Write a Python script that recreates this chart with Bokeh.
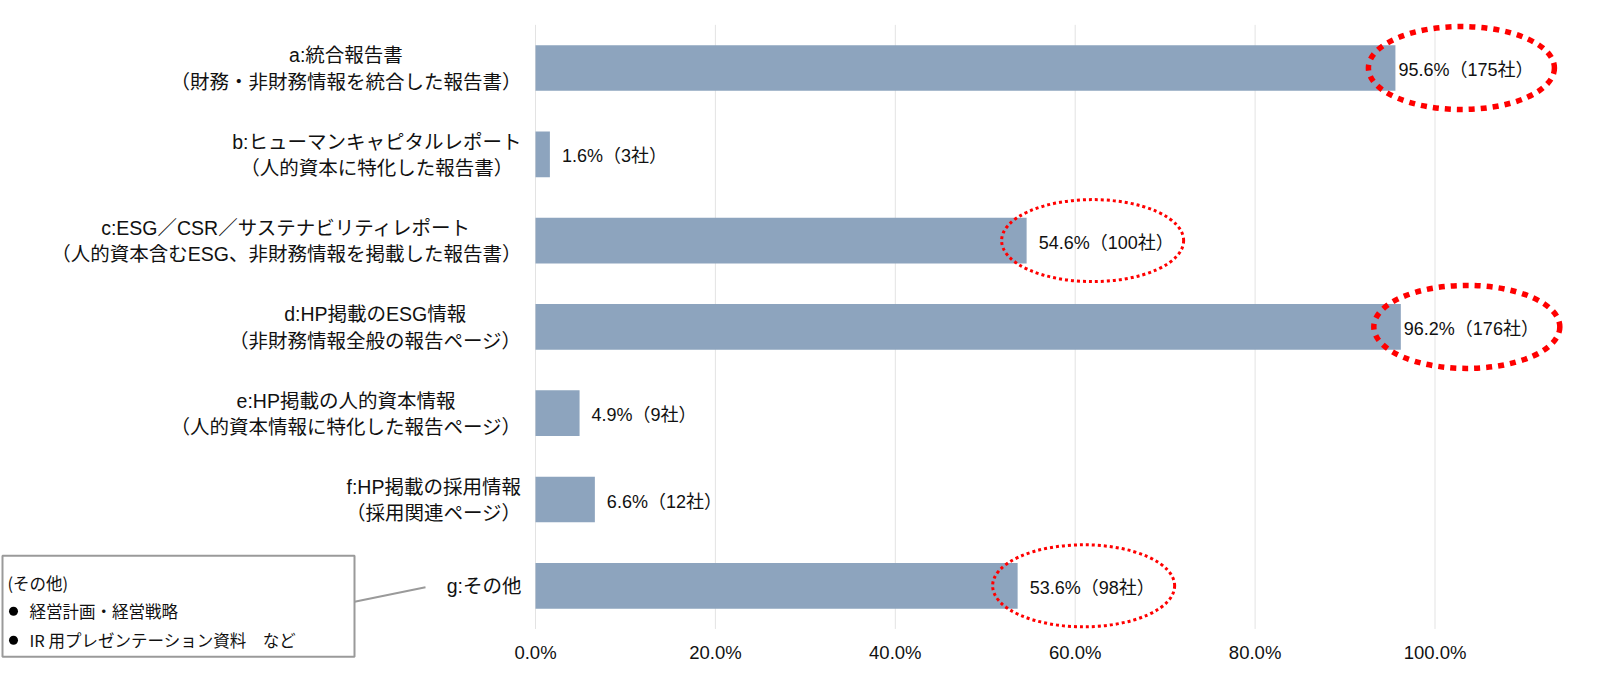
from bokeh.plotting import figure
from bokeh.models import Range1d
from bokeh.core.properties import value
from bokeh.embed import file_html
from bokeh.resources import INLINE

# ---------------- data ----------------
CAT_KEYS = ["a", "b", "c", "d", "e", "f", "g"]
CAT_LABELS = [
    "a:統合報告書\n（財務・非財務情報を統合した報告書）",
    "b:ヒューマンキャピタルレポート\n（人的資本に特化した報告書）",
    "c:ESG／CSR／サステナビリティレポート\n（人的資本含むESG、非財務情報を掲載した報告書）",
    "d:HP掲載のESG情報\n（非財務情報全般の報告ページ）",
    "e:HP掲載の人的資本情報\n（人的資本情報に特化した報告ページ）",
    "f:HP掲載の採用情報\n（採用関連ページ）",
    "g:その他",
]
PERCENT = [95.6, 1.6, 54.6, 96.2, 4.9, 6.6, 53.6]
COMPANIES = [175, 3, 100, 176, 9, 12, 98]
TICKS = [0, 20, 40, 60, 80, 100]
TICK_LABELS = ["0.0%", "20.0%", "40.0%", "60.0%", "80.0%", "100.0%"]
THICK_HIGHLIGHT = ["a", "d"]
THIN_HIGHLIGHT = ["c", "g"]
NOTE_CATEGORY = "g"
NOTE_TITLE = "(その他)"
NOTE_ITEMS = ["経営計画・経営戦略", "IR 用プレゼンテーション資料　など"]

# ---------------- layout ----------------
W, H = 1596, 672
X0_PX, PX_PER_PCT = 535.0, 8.995
Y0_PX, PX_PER_CAT = 67.5, 86.3

FONT = "'Liberation Sans', 'Noto Sans CJK JP', sans-serif"
NOTE_FONT = "'Noto Sans CJK JP', sans-serif"
BAR_COLOR = "#8DA4BE"
GRID_COLOR = "#E3E3E3"
TEXT_COLOR = "#111111"

x_start = -X0_PX / PX_PER_PCT
x_end = (W - X0_PX) / PX_PER_PCT
y_bottom = (H - Y0_PX) / PX_PER_CAT
y_top = -Y0_PX / PX_PER_CAT


def px_x(px):
    return px / PX_PER_PCT


def px_y(px):
    return px / PX_PER_CAT


p = figure(width=W, height=H,
           x_range=Range1d(x_start, x_end),
           y_range=Range1d(y_bottom, y_top),
           x_axis_type=None, y_axis_type=None,
           toolbar_location=None, output_backend="svg",
           min_border=0, outline_line_color=None)
p.background_fill_color = "white"
p.border_fill_color = "white"

n = len(CAT_KEYS)
idx = list(range(n))

# gridlines (vertical), from first band edge to last band edge
p.segment(x0=TICKS, y0=[-0.5] * len(TICKS), x1=TICKS, y1=[n - 0.5] * len(TICKS),
          line_color=GRID_COLOR, line_width=1)

# bars
p.hbar(y=idx, left=0, right=PERCENT, height=0.53, fill_color=BAR_COLOR, line_color=None)

# tick labels
p.text(x=TICKS, y=[n - 0.5 + px_y(23.3)] * len(TICKS), text=TICK_LABELS,
       text_align="center", text_baseline="middle",
       text_font=value(FONT), text_font_size="18.5px", text_color=TEXT_COLOR)

# category labels (block right-aligned, lines centered)
p.text(x=[-px_x(14)] * n, y=[i + px_y(0.5) for i in idx], text=CAT_LABELS,
       anchor="center_right", text_align="center", text_baseline="middle",
       text_font=value(FONT), text_font_size="19.5px", text_line_height=1.2,
       text_color=TEXT_COLOR)

# data labels
LABEL_SIZE = 18.0


def est_width_px(s):
    w = 0.0
    for ch in s:
        if ch.isdigit():
            w += 0.556
        elif ch == ".":
            w += 0.278
        elif ch == "%":
            w += 0.889
        else:
            w += 1.0
    return w * LABEL_SIZE


RIGHT_LIMIT = 110.0
lab_text, lab_x, lab_y = [], [], []
for i, (v, c) in enumerate(zip(PERCENT, COMPANIES)):
    s = f"{v:.1f}%（{c}社）"
    x = v + px_x(12)
    if x + px_x(est_width_px(s)) > RIGHT_LIMIT:
        x = v + px_x(3)
    lab_text.append(s)
    lab_x.append(x)
    lab_y.append(i + px_y(2))
p.text(x=lab_x, y=lab_y, text=lab_text, text_align="left", text_baseline="middle",
       text_font=value(FONT), text_font_size=f"{LABEL_SIZE}px", text_color=TEXT_COLOR)

# highlight ellipses
ELL_DX = px_x(66)
for keys, lw, dash, wpx, hpx in [(THICK_HIGHLIGHT, 5.5, "6 6", 186, 83),
                                 (THIN_HIGHLIGHT, 3, "3 3", 182, 82)]:
    ii = [CAT_KEYS.index(k) for k in keys]
    p.ellipse(x=[PERCENT[i] + ELL_DX for i in ii], y=ii,
              width=px_x(wpx), height=px_y(hpx),
              fill_color=None, line_color="#FF0000", line_width=lw, line_dash=dash)

# note box for "その他"
g = CAT_KEYS.index(NOTE_CATEGORY)
box_left = x_start + px_x(2)
box_right = x_start + px_x(354)
box_top = g - px_y(30)
box_bottom = g + px_y(71)
p.quad(left=[box_left], right=[box_right], top=[box_top], bottom=[box_bottom],
       fill_color="white", line_color="#9A9A9A", line_width=2)
p.segment(x0=[box_right], y0=[g + px_y(16)], x1=[-px_x(110)], y1=[g + px_y(1.5)],
          line_color="#9A9A9A", line_width=2)
line_ys = [g - px_y(3), g + px_y(25.5), g + px_y(54.5)]
p.text(x=[x_start + px_x(7)], y=[line_ys[0]], text=[NOTE_TITLE],
       text_align="left", text_baseline="middle",
       text_font=value(NOTE_FONT), text_font_size="16.5px", text_color=TEXT_COLOR)
p.scatter(x=[x_start + px_x(13)] * len(NOTE_ITEMS), y=line_ys[1:1 + len(NOTE_ITEMS)],
          marker="circle", size=9, fill_color="black", line_color=None)
p.text(x=[x_start + px_x(29)] * len(NOTE_ITEMS), y=line_ys[1:1 + len(NOTE_ITEMS)],
       text=NOTE_ITEMS, text_align="left", text_baseline="middle",
       text_font=value(NOTE_FONT), text_font_size="16.5px", text_color=TEXT_COLOR)

open("out.html", "w").write(file_html(p, INLINE))
